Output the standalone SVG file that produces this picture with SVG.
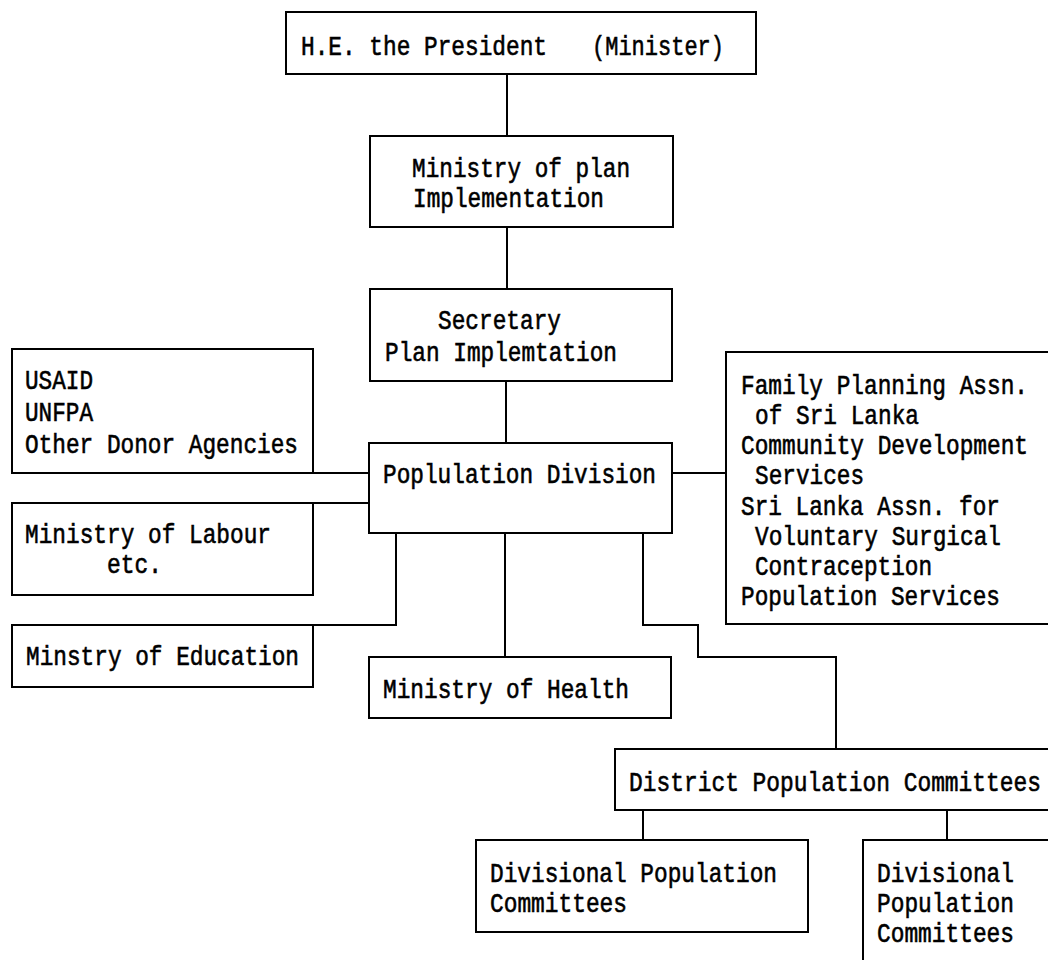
<svg xmlns="http://www.w3.org/2000/svg" width="1048" height="960" viewBox="0 0 1048 960">
  <style>
    .box { fill: #fff; stroke: #000; stroke-width: 2; }
    .wire { fill: none; stroke: #000; stroke-width: 2; }
    text { font-family: "Liberation Mono", "DejaVu Sans Mono", monospace; font-size: 28px; fill: #000; stroke: #000; stroke-width: 0.6; }
  </style>
  <rect x="0" y="0" width="1048" height="960" fill="#fff"/>

  <g id="connectors">
    <path class="wire" d="M507,74 V136"/>
    <path class="wire" d="M507,227 V289"/>
    <path class="wire" d="M506,381 V443"/>
    <path class="wire" d="M313,473 H369"/>
    <path class="wire" d="M313,503 H369"/>
    <path class="wire" d="M313,625 H396 V533"/>
    <path class="wire" d="M505,533 V657"/>
    <path class="wire" d="M643,533 V625 H698 V657 H836 V749"/>
    <path class="wire" d="M672,473 H726"/>
    <path class="wire" d="M643,810 V840"/>
    <path class="wire" d="M947,810 V840"/>
  </g>

  <g id="president">
    <rect class="box" x="286" y="12" width="470" height="62"/>
    <text x="301" y="55" textLength="246" lengthAdjust="spacingAndGlyphs">H.E. the President</text>
    <text x="592" y="55" textLength="132" lengthAdjust="spacingAndGlyphs">(Minister)</text>
  </g>

  <g id="ministry-plan">
    <rect class="box" x="370" y="136" width="303" height="91"/>
    <text x="412" y="177" textLength="218" lengthAdjust="spacingAndGlyphs">Ministry of plan</text>
    <text x="413" y="207" textLength="191" lengthAdjust="spacingAndGlyphs">Implementation</text>
  </g>

  <g id="secretary">
    <rect class="box" x="370" y="289" width="302" height="92"/>
    <text x="438" y="329" textLength="123" lengthAdjust="spacingAndGlyphs">Secretary</text>
    <text x="385" y="361" textLength="232" lengthAdjust="spacingAndGlyphs">Plan Implemtation</text>
  </g>

  <g id="donors">
    <rect class="box" x="12" y="349" width="301" height="124"/>
    <text x="25" y="389" textLength="68" lengthAdjust="spacingAndGlyphs">USAID</text>
    <text x="25" y="421" textLength="68" lengthAdjust="spacingAndGlyphs">UNFPA</text>
    <text x="25" y="453" textLength="273" lengthAdjust="spacingAndGlyphs">Other Donor Agencies</text>
  </g>

  <g id="labour">
    <rect class="box" x="12" y="503" width="301" height="92"/>
    <text x="25" y="543" textLength="246" lengthAdjust="spacingAndGlyphs">Ministry of Labour</text>
    <text x="107" y="573" textLength="55" lengthAdjust="spacingAndGlyphs">etc.</text>
  </g>

  <g id="education">
    <rect class="box" x="12" y="625" width="301" height="62"/>
    <text x="26" y="665" textLength="273" lengthAdjust="spacingAndGlyphs">Minstry of Education</text>
  </g>

  <g id="population-division">
    <rect class="box" x="369" y="443" width="303" height="90"/>
    <text x="383" y="483" textLength="273" lengthAdjust="spacingAndGlyphs">Poplulation Division</text>
  </g>

  <g id="ngos">
    <rect class="box" x="726" y="352" width="326" height="272"/>
    <text x="741" y="394" textLength="287" lengthAdjust="spacingAndGlyphs">Family Planning Assn.</text>
    <text x="755" y="424" textLength="164" lengthAdjust="spacingAndGlyphs">of Sri Lanka</text>
    <text x="741" y="454" textLength="287" lengthAdjust="spacingAndGlyphs">Community Development</text>
    <text x="755" y="484" textLength="109" lengthAdjust="spacingAndGlyphs">Services</text>
    <text x="741" y="515" textLength="259" lengthAdjust="spacingAndGlyphs">Sri Lanka Assn. for</text>
    <text x="755" y="545" textLength="246" lengthAdjust="spacingAndGlyphs">Voluntary Surgical</text>
    <text x="755" y="575" textLength="177" lengthAdjust="spacingAndGlyphs">Contraception</text>
    <text x="741" y="605" textLength="259" lengthAdjust="spacingAndGlyphs">Population Services</text>
  </g>

  <g id="health">
    <rect class="box" x="369" y="657" width="302" height="61"/>
    <text x="383" y="698" textLength="246" lengthAdjust="spacingAndGlyphs">Ministry of Health</text>
  </g>

  <g id="district">
    <rect class="box" x="615" y="749" width="437" height="61"/>
    <text x="629" y="791" textLength="412" lengthAdjust="spacingAndGlyphs">District Population Committees</text>
  </g>

  <g id="divisional-left">
    <rect class="box" x="476" y="840" width="332" height="92"/>
    <text x="490" y="882" textLength="287" lengthAdjust="spacingAndGlyphs">Divisional Population</text>
    <text x="490" y="912" textLength="137" lengthAdjust="spacingAndGlyphs">Committees</text>
  </g>

  <g id="divisional-right">
    <rect class="box" x="863" y="840" width="189" height="125"/>
    <text x="877" y="882" textLength="137" lengthAdjust="spacingAndGlyphs">Divisional</text>
    <text x="877" y="912" textLength="137" lengthAdjust="spacingAndGlyphs">Population</text>
    <text x="877" y="942" textLength="137" lengthAdjust="spacingAndGlyphs">Committees</text>
  </g>
</svg>
